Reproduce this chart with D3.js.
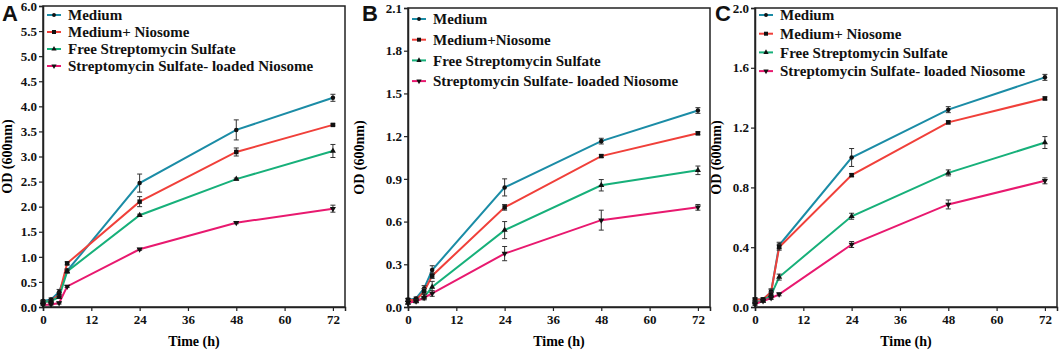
<!DOCTYPE html>
<html lang="en">
<head>
<meta charset="utf-8">
<script src="https://d3js.org/d3.v7.min.js"></script>
<style>
  body { margin: 0; background: #fff; }
</style>
</head>
<body>
<div id="chart"></div>
<script>
// time points (h)
var times = [0, 2, 4, 6, 24, 48, 72];
var seriesNames = ["Medium", "Medium+ Niosome", "Free Streptomycin Sulfate", "Streptomycin Sulfate- loaded Niosome"];
var seriesNamesB = ["Medium", "Medium+Niosome", "Free Streptomycin Sulfate", "Streptomycin Sulfate- loaded Niosome"];
var colors = ["#1b8ca6", "#f0403a", "#17b07a", "#e8196f"];

// panel A
var aMedium = [0.12, 0.15, 0.30, 0.72, 2.47, 3.53, 4.17];
var aNiosome = [0.10, 0.12, 0.25, 0.87, 2.10, 3.09, 3.63];
var aFree = [0.10, 0.12, 0.20, 0.71, 1.83, 2.55, 3.11];
var aLoaded = [0.04, 0.05, 0.08, 0.41, 1.15, 1.68, 1.96];
var aErr = [[0.02, 0.03, 0.05, 0.04, 0.18, 0.20, 0.07],
            [0.02, 0.02, 0.04, 0.03, 0.10, 0.08, 0.02],
            [0.02, 0.02, 0.03, 0.03, 0.02, 0.02, 0.13],
            [0.01, 0.01, 0.02, 0.02, 0.02, 0.02, 0.07]];
var aTicks = [0, 0.5, 1, 1.5, 2, 2.5, 3, 3.5, 4, 4.5, 5, 5.5, 6];

// panel B
var bMedium = [0.05, 0.06, 0.13, 0.26, 0.84, 1.165, 1.38];
var bNiosome = [0.05, 0.05, 0.11, 0.22, 0.70, 1.06, 1.22];
var bFree = [0.03, 0.04, 0.07, 0.14, 0.54, 0.855, 0.96];
var bLoaded = [0.03, 0.04, 0.065, 0.095, 0.375, 0.61, 0.70];
var bErr = [[0.01, 0.01, 0.02, 0.03, 0.06, 0.02, 0.02],
            [0.01, 0.01, 0.02, 0.02, 0.02, 0.01, 0.01],
            [0.01, 0.01, 0.02, 0.04, 0.06, 0.04, 0.03],
            [0.01, 0.01, 0.01, 0.02, 0.05, 0.07, 0.02]];
var bTicks = [0, 0.3, 0.6, 0.9, 1.2, 1.5, 1.8, 2.1];

// panel C
var cMedium = [0.05, 0.05, 0.10, 0.413, 1.00, 1.32, 1.536];
var cNiosome = [0.05, 0.05, 0.10, 0.40, 0.882, 1.235, 1.395];
var cFree = [0.03, 0.04, 0.08, 0.20, 0.607, 0.897, 1.10];
var cLoaded = [0.02, 0.04, 0.06, 0.085, 0.418, 0.686, 0.844];
var cErr = [[0.01, 0.01, 0.02, 0.02, 0.06, 0.02, 0.02],
            [0.01, 0.01, 0.02, 0.02, 0.01, 0.01, 0.01],
            [0.01, 0.01, 0.02, 0.02, 0.02, 0.02, 0.04],
            [0.01, 0.01, 0.01, 0.01, 0.02, 0.03, 0.02]];
var cTicks = [0, 0.4, 0.8, 1.2, 1.6, 2.0];

var xTicks = [0, 12, 24, 36, 48, 60, 72];
var symbols = [d3.symbolCircle, d3.symbolSquare, d3.symbolTriangle, d3.symbolTriangle];

var svg = d3.select("#chart").append("svg")
  .attr("width", 1059)
  .attr("height", 351);

var serif = "'Liberation Serif', 'Times New Roman', serif";

function drawPanel(p) {
  var x = d3.scaleLinear().domain([0, 75]).range([p.left, p.right]);
  var y = d3.scaleLinear().domain([0, p.ymax]).range([p.bottom, p.top]);
  var g = svg.append("g");

  // frame
  g.append("rect")
    .attr("x", p.left).attr("y", p.top)
    .attr("width", p.right - p.left).attr("height", p.bottom - p.top)
    .attr("fill", "none").attr("stroke", "#222").attr("stroke-width", 1.5);

  // axes
  var yAxis = g.append("g")
    .attr("transform", "translate(" + p.left + ",0)")
    .call(d3.axisLeft(y).tickValues(p.ticks).tickFormat(d3.format(".1f")).tickSize(4).tickPadding(2));
  var xAxis = g.append("g")
    .attr("transform", "translate(0," + p.bottom + ")")
    .call(d3.axisBottom(x).tickValues(xTicks).tickSize(4).tickPadding(4));
  [xAxis, yAxis].forEach(function(a) {
    a.select(".domain").attr("stroke", "#222").attr("stroke-width", 1.5);
    a.selectAll(".tick line").attr("stroke", "#222").attr("stroke-width", 1.2);
    a.selectAll(".tick text")
      .attr("font-family", serif).attr("font-weight", "bold")
      .attr("font-size", "13px").attr("fill", "#111");
  });

  // axis titles
  g.append("text")
    .attr("x", (p.left + x(72)) / 2 + 6).attr("y", 346)
    .attr("text-anchor", "middle")
    .attr("font-family", serif).attr("font-weight", "bold").attr("font-size", "14px")
    .text("Time (h)");
  g.append("text")
    .attr("transform", "translate(" + p.ylabX + "," + ((p.top + p.bottom) / 2) + ") rotate(-90)")
    .attr("text-anchor", "middle")
    .attr("font-family", serif).attr("font-weight", "bold").attr("font-size", "14px")
    .text("OD (600nm)");

  // panel letter
  g.append("text")
    .attr("x", p.letterX).attr("y", 21)
    .attr("font-family", "'Liberation Sans', Arial, sans-serif").attr("font-weight", "bold")
    .attr("font-size", "22px").attr("fill", "#111")
    .text(p.letter);

  var line = d3.line()
    .x(function(d, i) { return x(times[i]); })
    .y(function(d) { return y(d); });

  p.series.forEach(function(vals, s) {
    g.append("path")
      .datum(vals)
      .attr("d", line)
      .attr("fill", "none")
      .attr("stroke", colors[s])
      .attr("stroke-width", 2);
  });

  // error bars and markers
  p.series.forEach(function(vals, s) {
    var eg = g.append("g");
    vals.forEach(function(v, i) {
      var e = p.err[s][i];
      var cx = x(times[i]);
      eg.append("line").attr("x1", cx).attr("x2", cx)
        .attr("y1", y(v - e)).attr("y2", y(v + e))
        .attr("stroke", "#333").attr("stroke-width", 1);
      [v - e, v + e].forEach(function(t) {
        eg.append("line").attr("x1", cx - 2.5).attr("x2", cx + 2.5)
          .attr("y1", y(t)).attr("y2", y(t))
          .attr("stroke", "#333").attr("stroke-width", 1);
      });
    });
    g.append("g").selectAll("path")
      .data(vals)
      .enter()
      .append("path")
      .attr("d", d3.symbol().type(symbols[s]).size(s == 1 ? 20 : 16))
      .attr("transform", function(d, i) {
        return "translate(" + x(times[i]) + "," + y(d) + ")" + (s == 3 ? " rotate(180)" : "");
      })
      .attr("fill", "#111");
  });

  // legend
  p.names.forEach(function(name, s) {
    var ly = p.legY + s * p.legStep;
    g.append("line")
      .attr("x1", p.left + 4).attr("x2", p.left + 18)
      .attr("y1", ly).attr("y2", ly)
      .attr("stroke", colors[s]).attr("stroke-width", 2);
    g.append("path")
      .attr("d", d3.symbol().type(symbols[s]).size(s == 1 ? 16 : 12))
      .attr("transform", "translate(" + (p.left + 11) + "," + ly + ")" + (s == 3 ? " rotate(180)" : ""))
      .attr("fill", "#111");
    g.append("text")
      .attr("x", p.left + 25).attr("y", ly)
      .attr("dy", "0.35em")
      .attr("font-family", serif).attr("font-weight", "bold").attr("font-size", "15px")
      .attr("fill", "#111")
      .text(name);
  });
}

drawPanel({letter: "A", letterX: 2, left: 43, right: 345, top: 6, bottom: 307, ymax: 6, ticks: aTicks,
  series: [aMedium, aNiosome, aFree, aLoaded], err: aErr, names: seriesNames,
  legY: 15, legStep: 17, ylabX: 12});
drawPanel({letter: "B", letterX: 362, left: 408, right: 710, top: 8, bottom: 307, ymax: 2.1, ticks: bTicks,
  series: [bMedium, bNiosome, bFree, bLoaded], err: bErr, names: seriesNamesB,
  legY: 19, legStep: 20.7, ylabX: 364});
drawPanel({letter: "C", letterX: 715, left: 755, right: 1057, top: 8, bottom: 307, ymax: 2.0, ticks: cTicks,
  series: [cMedium, cNiosome, cFree, cLoaded], err: cErr, names: seriesNames,
  legY: 15, legStep: 18.7, ylabX: 721});
</script>
</body>
</html>
